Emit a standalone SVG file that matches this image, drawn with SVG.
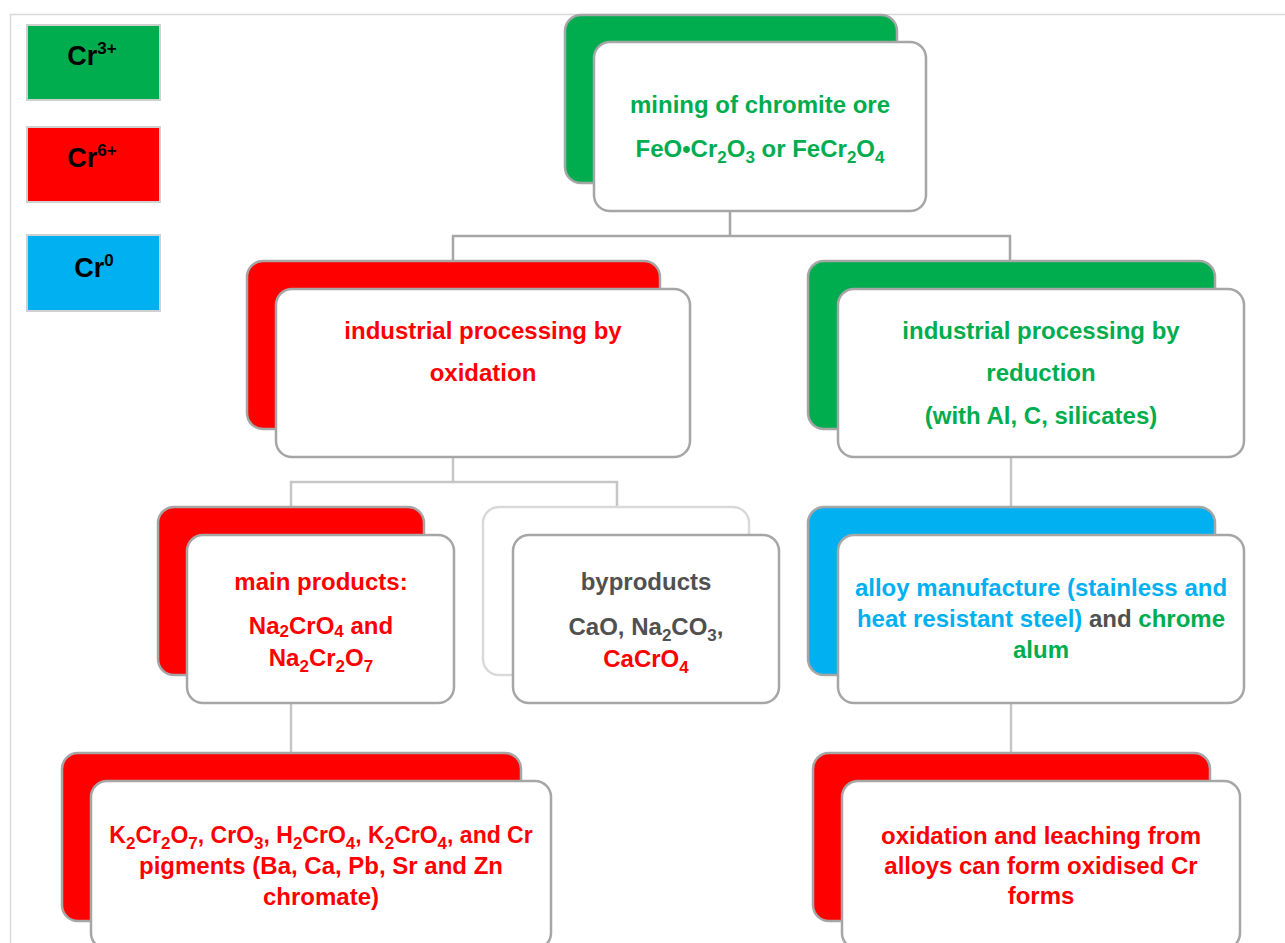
<svg xmlns="http://www.w3.org/2000/svg" width="1285" height="943" viewBox="0 0 1285 943">
<style>
text{font-family:"Liberation Sans",Arial,sans-serif;font-weight:bold;text-anchor:middle;font-size:24px}
.back{stroke:#a6a6a6;stroke-width:2.5}
.front{fill:#fff;stroke:#a6a6a6;stroke-width:2.5}
.g{fill:#00ad4e}.r{fill:#ff0000}.b{fill:#00b0f0}.k{fill:#505050}
.leg{stroke:#d0d0d0;stroke-width:2}
.conn{fill:none;stroke:#a6a6a6;stroke-width:2.5}
.conn2{fill:none;stroke:#c6c6c6;stroke-width:2.5}
.sub{font-size:17px}
text.legt{font-size:27px}
.sup{font-size:17px}
text.small{font-size:23px}
</style>
<rect x="0" y="0" width="1285" height="943" fill="#fff"/>
<path d="M10.5 943 V14.5 H1285" fill="none" stroke="#d9d9d9" stroke-width="1.5"/>
<g id="legend">
<rect class="leg" x="27" y="25" width="133" height="75" fill="#00ad4e"/>
<text class="legt" x="92" y="65" fill="#000">Cr<tspan class="sup" dy="-11">3+</tspan></text>
<rect class="leg" x="27" y="127" width="133" height="75" fill="#ff0000"/>
<text class="legt" x="92" y="167" fill="#000">Cr<tspan class="sup" dy="-11">6+</tspan></text>
<rect class="leg" x="27" y="235" width="133" height="76" fill="#00b0f0"/>
<text class="legt" x="94" y="277" fill="#000">Cr<tspan class="sup" dy="-11">0</tspan></text>
</g>
<g id="connectors">
<path class="conn" d="M730 211 V236 M453 261 V236 H1010 V261"/>
<path class="conn2" d="M453 457 V482 M291 507 V482 H617 V507"/>
<path class="conn2" d="M1011 457 V507"/>
<path class="conn2" d="M291 703 V753"/>
<path class="conn2" d="M1011 703 V753"/>
</g>
<g id="n-mining">
<rect class="back g" x="565" y="15" width="332" height="168" rx="16"/>
<rect class="front" x="594" y="42" width="332" height="169" rx="16"/>
<text class="g" x="760" y="113">mining of chromite ore</text>
<text class="g" x="760" y="157">FeO•Cr<tspan class="sub" dy="6">2</tspan><tspan dy="-6">O</tspan><tspan class="sub" dy="6">3</tspan><tspan dy="-6"> or FeCr</tspan><tspan class="sub" dy="6">2</tspan><tspan dy="-6">O</tspan><tspan class="sub" dy="6">4</tspan></text>
</g>
<g id="n-oxidation">
<rect class="back r" x="247" y="261" width="413" height="168" rx="16"/>
<rect class="front" x="276" y="289" width="414" height="168" rx="16"/>
<text class="r" x="483" y="339">industrial processing by</text>
<text class="r" x="483" y="381">oxidation</text>
</g>
<g id="n-reduction">
<rect class="back g" x="808" y="261" width="407" height="168" rx="16"/>
<rect class="front" x="838" y="289" width="406" height="168" rx="16"/>
<text class="g" x="1041" y="339">industrial processing by</text>
<text class="g" x="1041" y="381">reduction</text>
<text class="g" x="1041" y="424">(with Al, C, silicates)</text>
</g>
<g id="n-main">
<rect class="back r" x="158" y="507" width="266" height="168" rx="16"/>
<rect class="front" x="187" y="535" width="267" height="168" rx="16"/>
<text class="r" x="321" y="590">main products:</text>
<text class="r" x="321" y="634">Na<tspan class="sub" dy="3">2</tspan><tspan dy="-3">CrO</tspan><tspan class="sub" dy="3">4</tspan><tspan dy="-3"> and</tspan></text>
<text class="r" x="321" y="666">Na<tspan class="sub" dy="6">2</tspan><tspan dy="-6">Cr</tspan><tspan class="sub" dy="6">2</tspan><tspan dy="-6">O</tspan><tspan class="sub" dy="6">7</tspan></text>
</g>
<g id="n-byproducts">
<rect x="483" y="507" width="266" height="168" rx="16" fill="#fff" stroke="#d9d9d9" stroke-width="2.5"/>
<rect class="front" x="513" y="535" width="266" height="168" rx="16"/>
<text class="k" x="646" y="590">byproducts</text>
<text class="k" x="646" y="635">CaO, Na<tspan class="sub" dy="6">2</tspan><tspan dy="-6">CO</tspan><tspan class="sub" dy="6">3</tspan><tspan dy="-6">,</tspan></text>
<text class="r" x="646" y="667">CaCrO<tspan class="sub" dy="6">4</tspan></text>
</g>
<g id="n-alloy">
<rect class="back b" x="808" y="507" width="407" height="168" rx="16"/>
<rect class="front" x="838" y="535" width="406" height="168" rx="16"/>
<text class="b" x="1041" y="596">alloy manufacture (stainless and</text>
<text x="1041" y="627"><tspan class="b">heat resistant steel)</tspan><tspan class="k"> and </tspan><tspan class="g">chrome</tspan></text>
<text class="g" x="1041" y="658">alum</text>
</g>
<g id="n-pigments">
<rect class="back r" x="62" y="753" width="459" height="168" rx="16"/>
<rect class="front" x="91" y="781" width="460" height="168" rx="16"/>
<text class="r small" x="321" y="843">K<tspan class="sub" dy="6">2</tspan><tspan dy="-6">Cr</tspan><tspan class="sub" dy="6">2</tspan><tspan dy="-6">O</tspan><tspan class="sub" dy="6">7</tspan><tspan dy="-6">, CrO</tspan><tspan class="sub" dy="6">3</tspan><tspan dy="-6">, H</tspan><tspan class="sub" dy="6">2</tspan><tspan dy="-6">CrO</tspan><tspan class="sub" dy="6">4</tspan><tspan dy="-6">, K</tspan><tspan class="sub" dy="6">2</tspan><tspan dy="-6">CrO</tspan><tspan class="sub" dy="6">4</tspan><tspan dy="-6">, and Cr</tspan></text>
<text class="r" x="321" y="874">pigments (Ba, Ca, Pb, Sr and Zn</text>
<text class="r" x="321" y="905">chromate)</text>
</g>
<g id="n-leaching">
<rect class="back r" x="813" y="753" width="397" height="168" rx="16"/>
<rect class="front" x="842" y="781" width="398" height="168" rx="16"/>
<text class="r" x="1041" y="844">oxidation and leaching from</text>
<text class="r" x="1041" y="874">alloys can form oxidised Cr</text>
<text class="r" x="1041" y="904">forms</text>
</g>
</svg>
